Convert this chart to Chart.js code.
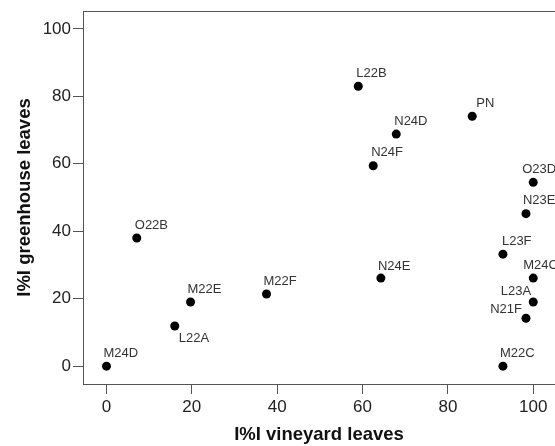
<!DOCTYPE html>
<html>
<head>
<meta charset="utf-8">
<script src="https://cdn.jsdelivr.net/npm/chart.js@4.4.0/dist/chart.umd.min.js"></script>
<style>
    html, body { margin: 0; padding: 0; background: #fff; overflow: hidden; }
    #wrap { width: 555px; height: 446px; }
</style>
</head>
<body>
<div id="wrap"><canvas id="chart" width="555" height="446"></canvas></div>
<script>
const samples = ['L22B', 'PN', 'N24D', 'N24F', 'O23D', 'N23E', 'O22B', 'L23F', 'N24E', 'M24C', 'M22F', 'M22E', 'L23A', 'N21F', 'L22A', 'M24D', 'M22C'];
const vineyard = [59.0, 85.7, 67.9, 62.5, 100, 98.3, 7.1, 92.9, 64.3, 100, 37.5, 19.7, 100, 98.3, 16.0, 0, 92.9];
const greenhouse = [83.0, 74.1, 68.8, 59.4, 54.5, 45.2, 38.0, 33.2, 26.1, 26.1, 21.4, 19.0, 19.0, 14.2, 11.9, 0, 0];
const tickValues = [0, 20, 40, 60, 80, 100];

// label placement next to each point: [dx, dy, align]
const labelPlacement = [
    [-2, -13, 'left'], [4, -13, 'left'], [-2, -13, 'left'], [-2, -13, 'left'],
    [-11, -13, 'left'], [-3, -13, 'left'], [-2, -13, 'left'], [-1, -13, 'left'],
    [-3, -12, 'left'], [-10, -13, 'left'], [-3, -13, 'left'], [-3, -13, 'left'],
    [-2, -11, 'right'], [-4, -9, 'right'], [4, 12, 'left'], [-3, -13, 'left'],
    [-3, -13, 'left']
];

const fontFamily = '"Liberation Sans", Arial, sans-serif';
Chart.defaults.font.family = fontFamily;

const pointLabels = {
    id: 'pointLabels',
    afterDatasetsDraw(chart) {
        const ctx = chart.ctx;
        const meta = chart.getDatasetMeta(0);
        ctx.save();
        ctx.font = '13px ' + fontFamily;
        ctx.fillStyle = '#333';
        ctx.textBaseline = 'middle';
        meta.data.forEach((pt, i) => {
            const p = labelPlacement[i];
            ctx.textAlign = p[2];
            ctx.fillText(samples[i], pt.x + p[0], pt.y + p[1]);
        });
        ctx.restore();
    }
};

// top edge of the frame
const frame = {
    id: 'frame',
    afterDraw(chart) {
        const a = chart.chartArea;
        const ctx = chart.ctx;
        ctx.save();
        ctx.strokeStyle = '#555';
        ctx.lineWidth = 1;
        ctx.beginPath();
        ctx.moveTo(a.left, a.top + 0.5);
        ctx.lineTo(a.right, a.top + 0.5);
        ctx.stroke();
        ctx.restore();
    }
};

const data = vineyard.map((v, i) => ({ x: v, y: greenhouse[i] }));

new Chart(document.getElementById('chart').getContext('2d'), {
    type: 'scatter',
    data: {
        datasets: [{
            data: data,
            backgroundColor: '#000',
            borderWidth: 0,
            pointRadius: 4.5,
            clip: false
        }]
    },
    options: {
        responsive: false,
        animation: false,
        layout: { autoPadding: false, padding: { top: 11, left: 0, right: 0, bottom: 0 } },
        plugins: {
            legend: { display: false },
            tooltip: { enabled: false }
        },
        scales: {
            x: {
                type: 'linear',
                min: -5.5,
                max: 105.1,
                afterBuildTicks: s => { s.ticks = tickValues.map(v => ({ value: v })); },
                afterFit: s => {
                    s.height = 62;
                    s.paddingLeft = 0;
                    s.paddingRight = 0;
                },
                grid: { drawOnChartArea: false, drawTicks: true, tickLength: 10, color: '#555' },
                border: { display: true, color: '#555', width: 1 },
                ticks: { color: '#222', font: { size: 17 }, padding: 3, maxRotation: 0 },
                title: {
                    display: true,
                    text: 'I%I vineyard leaves',
                    color: '#111',
                    font: { size: 18.5, weight: 'bold' },
                    padding: { top: 0, bottom: 0 }
                }
            },
            y: {
                type: 'linear',
                min: -5.3,
                max: 105.3,
                afterBuildTicks: s => { s.ticks = tickValues.map(v => ({ value: v })); },
                afterFit: s => {
                    s.width = 83;
                    s.paddingTop = 0;
                    s.paddingBottom = 0;
                },
                grid: { drawOnChartArea: false, drawTicks: true, tickLength: 10, color: '#555' },
                border: { display: true, color: '#555', width: 1 },
                ticks: { color: '#222', font: { size: 17 }, padding: 2 },
                title: {
                    display: true,
                    text: 'I%I greenhouse leaves',
                    color: '#111',
                    font: { size: 18.5, weight: 'bold' },
                    padding: { top: 14, bottom: 0 }
                }
            }
        }
    },
    plugins: [pointLabels, frame]
});
</script>
</body>
</html>
